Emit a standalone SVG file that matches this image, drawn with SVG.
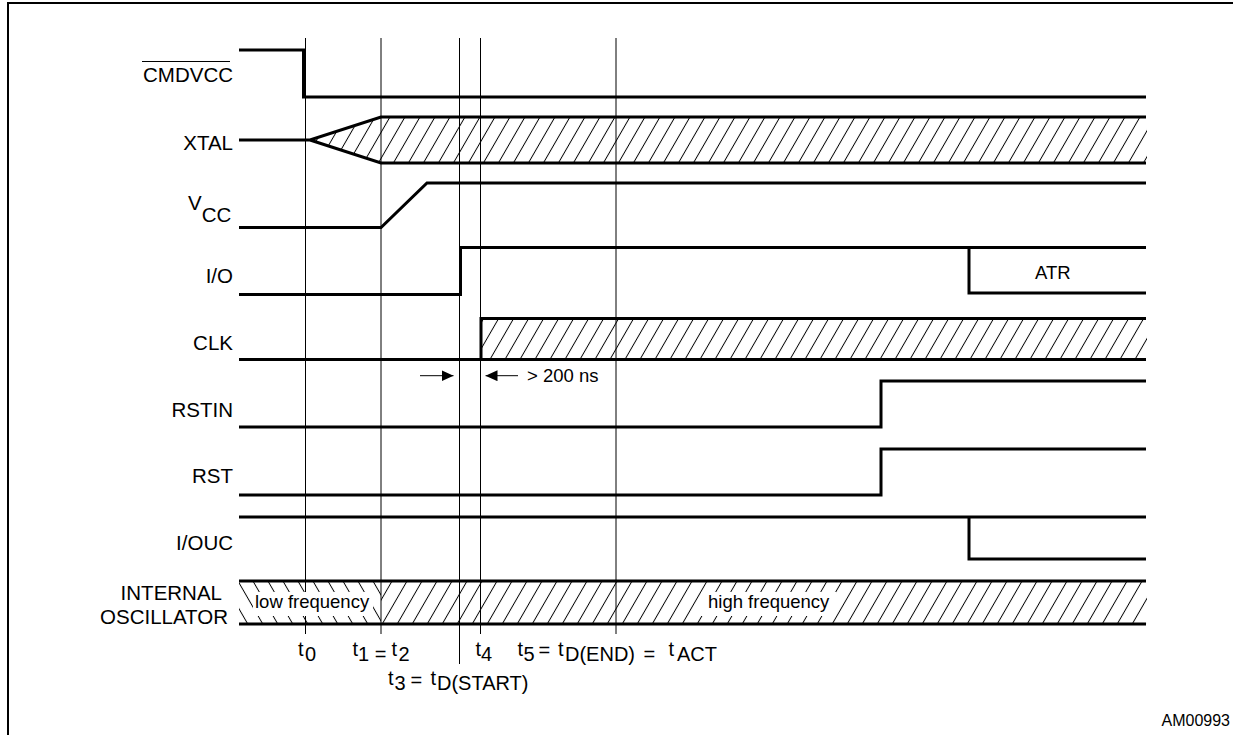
<svg xmlns="http://www.w3.org/2000/svg" width="1233" height="735" viewBox="0 0 1233 735">
<style>
.sig{fill:none;stroke:#000;stroke-width:3;stroke-linejoin:miter;stroke-linecap:butt}
.tl{fill:none;stroke:#000;stroke-width:1}
.lbl{font-family:"Liberation Sans",Arial,sans-serif;font-size:20.5px;fill:#000}
.tm{font-family:"Liberation Sans",Arial,sans-serif;font-size:20px;fill:#000}
.end{text-anchor:end}
.small{font-family:"Liberation Sans",Arial,sans-serif;font-size:18.5px;fill:#000}
.ref{font-family:"Liberation Sans",Arial,sans-serif;font-size:16px;fill:#000}
</style>
<defs>
<pattern id="hs" width="15" height="10" patternUnits="userSpaceOnUse" patternTransform="skewX(-30)">
<line x1="7.5" y1="-1" x2="7.5" y2="11" stroke="#000" stroke-width="1.1"/>
</pattern>
<pattern id="hb" width="15" height="10" patternUnits="userSpaceOnUse" patternTransform="skewX(30)">
<line x1="7.5" y1="-1" x2="7.5" y2="11" stroke="#000" stroke-width="1.1"/>
</pattern>
<marker id="ah" viewBox="0 0 12 11" refX="12" refY="5.5" markerWidth="12" markerHeight="11" markerUnits="userSpaceOnUse" orient="auto">
<path d="M0,0 L12,5.5 L0,11 z" fill="#000"/>
</marker>
</defs>

<g id="frame">
<path d="M8,735 V3 H1233" fill="none" stroke="#000" stroke-width="2"/>
</g>

<g id="timelines">
<line class="tl" x1="305.5" y1="38" x2="305.5" y2="634"/>
<line class="tl" x1="381" y1="38" x2="381" y2="634"/>
<line class="tl" x1="459.5" y1="38" x2="459.5" y2="664"/>
<line class="tl" x1="480.5" y1="38" x2="480.5" y2="634"/>
<line class="tl" x1="616" y1="38" x2="616" y2="634"/>
</g>

<g id="sig-cmdvcc">
<text class="lbl end" x="233" y="82">CMDVCC</text>
<line x1="142" y1="61.5" x2="230" y2="61.5" stroke="#000" stroke-width="1.2"/>
<path class="sig" d="M239,50 H303.5 V97 H1146"/>
</g>

<g id="sig-xtal">
<text class="lbl end" x="233" y="150">XTAL</text>
<polygon points="310,140 381,117 1147,117 1147,163 381,163" fill="url(#hs)"/>
<path class="sig" d="M239,140 H310 L381,117 H1146 M310,140 L381,163 H1146"/>
</g>

<g id="sig-vcc">
<text class="lbl" x="188" y="210">V<tspan dy="12">CC</tspan></text>
<path class="sig" d="M239,227.5 H381 L427,183 H1146"/>
</g>

<g id="sig-io">
<text class="lbl end" x="233" y="283">I/O</text>
<path class="sig" d="M239,294.5 H460.5 V247.5 H1146 M969,247.5 V293 H1146"/>
<text class="small" x="1035" y="279">ATR</text>
</g>

<g id="sig-clk">
<text class="lbl end" x="233" y="349.5">CLK</text>
<rect x="481" y="318.5" width="666" height="41" fill="url(#hs)"/>
<path class="sig" d="M239,359.5 H1146 M481,359.5 V318.5 H1146"/>
</g>

<g id="connectors">
<line class="tl" x1="420" y1="375.7" x2="453.5" y2="375.7" marker-end="url(#ah)"/>
<line class="tl" x1="518" y1="375.7" x2="485.5" y2="375.7" marker-end="url(#ah)"/>
<text class="small" x="527" y="382">&gt; 200 ns</text>
</g>

<g id="sig-rstin">
<text class="lbl end" x="233" y="417">RSTIN</text>
<path class="sig" d="M239,427 H881 V381 H1146"/>
</g>

<g id="sig-rst">
<text class="lbl end" x="233" y="483">RST</text>
<path class="sig" d="M239,495 H881 V449 H1146"/>
</g>

<g id="sig-iouc">
<text class="lbl end" x="233" y="549.5">I/OUC</text>
<path class="sig" d="M239,517 H1146 M969,517 V559 H1146"/>
</g>

<g id="sig-osc">
<text class="lbl end" x="222" y="600">INTERNAL</text>
<text class="lbl end" x="228" y="624">OSCILLATOR</text>
<rect x="239" y="581" width="142" height="43" fill="url(#hb)"/>
<rect x="381" y="581" width="766" height="43" fill="url(#hs)"/>
<rect x="253" y="592" width="120" height="24" fill="#fff"/>
<rect x="701" y="592" width="135" height="24" fill="#fff"/>
<text class="small" x="255" y="607.5">low frequency</text>
<text class="small" x="708" y="607.5">high frequency</text>
<path class="sig" d="M239,581 H1146 M239,624 H1146"/>
</g>

<g id="time-labels" class="tm">
<text><tspan x="298" y="656">t</tspan><tspan x="305" y="661">0</tspan></text>
<text><tspan x="352.5" y="656">t</tspan><tspan x="358" y="661">1 =</tspan><tspan x="391.5" y="656">t</tspan><tspan x="398.5" y="661">2</tspan></text>
<text><tspan x="388" y="685">t</tspan><tspan x="394.5" y="690">3</tspan><tspan x="410.5" y="687">=</tspan><tspan x="430.5" y="685">t</tspan><tspan x="437" y="690">D(START)</tspan></text>
<text><tspan x="475.5" y="656">t</tspan><tspan x="481" y="661">4</tspan></text>
<text><tspan x="517.5" y="656">t</tspan><tspan x="523.5" y="661">5</tspan><tspan x="538.5" y="657">=</tspan><tspan x="558" y="656">t</tspan><tspan x="565" y="661">D(END)</tspan><tspan x="643.5" y="661">=</tspan><tspan x="668.5" y="656">t</tspan><tspan x="677" y="661">ACT</tspan></text>
</g>

<g id="ref">
<text class="ref end" x="1230" y="725.5">AM00993</text>
</g>
</svg>
